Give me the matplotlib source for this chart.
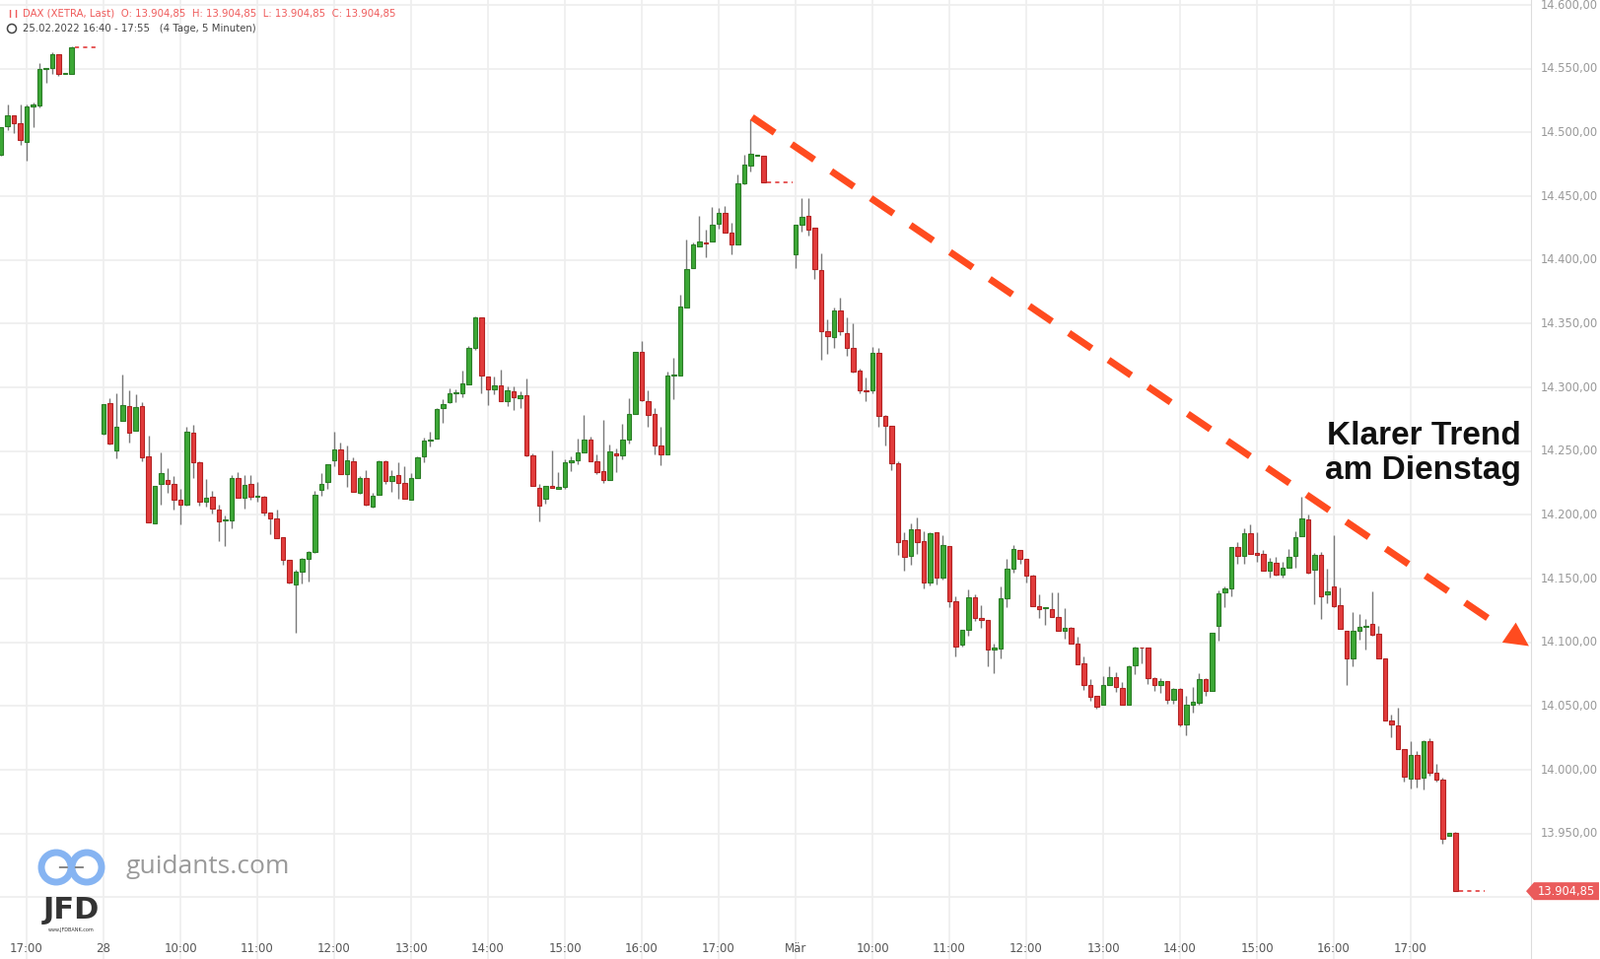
"""
DAX 5-minute candles, 25.02. - 01.03.2022 (guidants style)
"""
import matplotlib
matplotlib.use("Agg")
import matplotlib.pyplot as plt
from matplotlib.patches import Ellipse, Polygon

# ---- data: each session is a run of 5-min candles, slot 0 = 25.02. 17:00
feb25_start = -4
feb25_open = [14482.3, 14504.7, 14513.2, 14507.0, 14492.3, 14520.1, 14520.9, 14549.8, 14550.3, 14561.1, 14545.6, 14545.6]
feb25_high = [14504.0, 14522.0, 14513.2, 14521.7, 14521.7, 14523.2, 14554.2, 14550.3, 14562.7, 14561.1, 14545.6, 14567.3]
feb25_low = [14482.0, 14501.6, 14499.3, 14490.5, 14477.6, 14503.9, 14519.4, 14538.7, 14546.0, 14544.1, 14545.6, 14545.6]
feb25_close = [14503.9, 14513.2, 14507.0, 14493.8, 14520.1, 14521.7, 14549.5, 14549.8, 14561.1, 14545.6, 14545.6, 14566.5]

feb28_start = 12
feb28_open = [14263.5, 14287.4, 14250.3, 14273.5, 14285.1, 14265.8, 14285.1, 14245.7, 14193.1, 14224.0,
              14227.1, 14224.0, 14211.7, 14207.8, 14264.2, 14241.0, 14210.1, 14214.0, 14203.9, 14195.4,
              14195.4, 14228.7, 14213.2, 14224.0, 14214.5, 14214.0, 14201.6, 14197.0, 14182.3, 14164.5,
              14145.2, 14155.2, 14165.3, 14171.0, 14219.4, 14226.1, 14242.6, 14251.1, 14231.8, 14241.8,
              14217.1, 14228.7, 14206.3, 14215.5, 14241.8, 14226.3, 14231.0, 14224.8, 14211.7, 14228.7,
              14245.7, 14258.6, 14259.6, 14283.6, 14288.2, 14295.2, 14295.2, 14302.1, 14330.7, 14354.7,
              14308.3, 14298.3, 14301.4, 14289.0, 14296.7, 14291.3, 14293.6, 14246.5, 14221.0, 14212.4,
              14222.5, 14220.2, 14221.7, 14241.0, 14242.6, 14248.8, 14258.8, 14241.8, 14234.1, 14227.6,
              14248.0, 14246.5, 14258.8, 14278.9, 14327.6, 14289.0, 14278.9, 14254.2, 14247.2, 14309.1,
              14309.1, 14362.4, 14393.4, 14410.4, 14413.5, 14414.2, 14428.2, 14436.6, 14421.2, 14411.9,
              14459.8, 14473.8, 14481.5, 14481.5]
feb28_high = [14287.0, 14291.5, 14295.4, 14310.1, 14297.7, 14294.6, 14288.5, 14262.2, 14222.5, 14249.0,
              14236.7, 14230.5, 14220.4, 14269.1, 14270.7, 14242.1, 14228.1, 14218.9, 14207.8, 14199.5,
              14231.2, 14233.5, 14231.2, 14231.2, 14225.8, 14214.7, 14201.6, 14204.2, 14182.3, 14164.5,
              14156.8, 14166.1, 14171.5, 14219.0, 14232.8, 14239.5, 14265.3, 14256.8, 14254.4, 14245.2,
              14230.2, 14234.9, 14217.1, 14242.6, 14242.6, 14234.9, 14241.0, 14238.0, 14232.5, 14245.7,
              14260.6, 14265.3, 14283.6, 14290.8, 14299.0, 14298.3, 14312.9, 14332.3, 14355.5, 14354.7,
              14308.3, 14308.3, 14313.7, 14300.6, 14300.6, 14296.7, 14306.8, 14248.0, 14224.0, 14222.5,
              14250.6, 14233.3, 14243.4, 14245.7, 14259.9, 14278.4, 14261.1, 14247.2, 14274.5, 14254.9,
              14251.8, 14271.4, 14291.5, 14327.6, 14336.1, 14297.5, 14283.6, 14268.9, 14312.2, 14323.0,
              14372.5, 14415.8, 14413.5, 14434.3, 14423.5, 14441.3, 14440.5, 14442.1, 14428.9, 14466.8,
              14482.3, 14510.1, 14481.5, 14481.5]
feb28_low = [14263.0, 14255.5, 14244.4, 14273.5, 14257.0, 14265.8, 14242.3, 14193.9, 14193.0, 14208.3,
             14217.6, 14204.4, 14192.8, 14207.0, 14229.2, 14207.0, 14206.2, 14201.3, 14179.7, 14175.8,
             14189.7, 14213.2, 14205.2, 14211.7, 14210.6, 14199.3, 14184.6, 14181.5, 14160.6, 14145.9,
             14107.3, 14145.9, 14147.5, 14170.0, 14215.3, 14220.7, 14238.0, 14231.8, 14222.2, 14217.8,
             14216.3, 14207.0, 14205.5, 14215.5, 14224.0, 14218.4, 14212.4, 14212.4, 14211.7, 14228.7,
             14241.6, 14253.4, 14259.6, 14272.0, 14287.5, 14288.2, 14292.1, 14302.1, 14329.2, 14295.2,
             14285.9, 14294.4, 14289.0, 14285.1, 14282.0, 14283.6, 14245.7, 14222.5, 14194.6, 14208.6,
             14221.0, 14220.2, 14220.2, 14234.0, 14239.5, 14248.8, 14241.8, 14231.8, 14224.8, 14227.1,
             14233.3, 14243.4, 14255.7, 14278.9, 14289.0, 14268.9, 14247.2, 14238.7, 14247.2, 14290.5,
             14309.1, 14362.4, 14393.4, 14410.4, 14401.9, 14414.2, 14424.3, 14421.2, 14404.2, 14411.9,
             14459.0, 14469.1, 14481.5, 14460.6]
feb28_close = [14286.7, 14256.2, 14268.9, 14285.9, 14264.7, 14284.3, 14244.9, 14193.9, 14222.5, 14232.5,
               14224.0, 14211.7, 14207.8, 14265.0, 14241.0, 14210.1, 14213.2, 14204.7, 14194.6, 14195.4,
               14228.7, 14213.2, 14223.2, 14214.0, 14214.5, 14201.6, 14197.0, 14181.5, 14164.5, 14146.7,
               14155.2, 14165.3, 14170.7, 14216.0, 14224.0, 14239.5, 14251.1, 14231.8, 14242.6, 14217.8,
               14228.7, 14207.8, 14214.8, 14241.8, 14226.3, 14230.2, 14224.8, 14212.4, 14228.7, 14244.9,
               14258.0, 14258.6, 14282.8, 14286.7, 14295.2, 14295.2, 14302.9, 14330.7, 14354.7, 14309.1,
               14298.3, 14301.4, 14289.0, 14297.5, 14292.1, 14293.6, 14246.5, 14222.5, 14207.0, 14222.5,
               14221.0, 14221.7, 14241.0, 14242.6, 14248.8, 14258.8, 14241.8, 14233.3, 14227.1, 14249.5,
               14246.5, 14258.8, 14278.9, 14327.6, 14289.7, 14278.1, 14254.2, 14247.2, 14309.1, 14309.1,
               14363.2, 14392.6, 14411.9, 14414.2, 14413.2, 14427.4, 14436.6, 14421.2, 14411.9, 14459.8,
               14474.5, 14483.0, 14481.5, 14460.6]

mar01_start = 120
mar01_open = [14404.2, 14427.4, 14434.3, 14425.0, 14391.8, 14343.9, 14339.2, 14360.1, 14342.3, 14330.7,
              14313.5, 14297.5, 14297.5, 14326.8, 14277.3, 14269.6, 14240.2, 14179.9, 14167.5, 14188.4,
              14179.1, 14146.7, 14186.1, 14150.5, 14175.3, 14132.0, 14098.5, 14109.6, 14135.1, 14118.8,
              14117.3, 14094.1, 14094.9, 14134.3, 14157.5, 14172.2, 14165.2, 14152.1, 14128.1, 14126.6,
              14125.8, 14119.6, 14108.8, 14111.1, 14098.7, 14083.3, 14066.3, 14057.8, 14050.8, 14066.3,
              14072.4, 14063.9, 14050.8, 14081.7, 14095.9, 14095.7, 14071.7, 14066.3, 14069.4, 14055.2,
              14063.2, 14035.4, 14050.8, 14052.4, 14070.9, 14061.6, 14112.7, 14139.0, 14142.0, 14174.5,
              14167.6, 14185.4, 14169.9, 14169.1, 14156.0, 14162.2, 14152.9, 14158.3, 14167.6, 14183.0,
              14196.2, 14156.8, 14168.3, 14137.4, 14143.6, 14128.9, 14108.8, 14087.1, 14108.8, 14111.9,
              14114.2, 14106.5, 14087.1, 14038.4, 14034.6, 14016.1, 13992.9, 14011.4, 13993.6, 14022.2,
              13997.5, 13992.1, 13947.9, 13950.3]
mar01_high = [14427.4, 14448.3, 14448.3, 14425.0, 14405.0, 14353.1, 14362.4, 14370.2, 14354.7, 14350.1,
              14315.0, 14307.5, 14331.5, 14330.7, 14278.1, 14269.6, 14241.8, 14186.1, 14193.1, 14197.7,
              14186.9, 14186.1, 14186.1, 14183.8, 14175.3, 14135.8, 14109.6, 14141.3, 14137.4, 14128.9,
              14117.3, 14098.7, 14143.6, 14165.2, 14176.0, 14172.2, 14165.2, 14152.8, 14137.4, 14127.3,
              14138.9, 14138.9, 14126.6, 14111.9, 14104.1, 14088.7, 14070.9, 14057.8, 14073.2, 14080.9,
              14076.3, 14068.6, 14082.0, 14096.7, 14095.9, 14095.7, 14072.4, 14071.7, 14069.4, 14064.0,
              14064.0, 14057.8, 14064.7, 14075.5, 14071.7, 14107.2, 14140.5, 14143.6, 14174.5, 14178.4,
              14189.2, 14192.3, 14186.1, 14172.2, 14166.0, 14166.8, 14162.9, 14173.0, 14186.9, 14214.0,
              14200.0, 14169.9, 14170.7, 14157.5, 14183.8, 14142.8, 14108.8, 14123.5, 14121.9, 14118.1,
              14139.7, 14112.7, 14087.1, 14043.1, 14048.5, 14016.1, 14022.2, 14014.5, 14023.0, 14024.5,
              14004.4, 13993.6, 13950.3, 13951.0]
mar01_low = [14393.9, 14422.0, 14418.9, 14385.4, 14321.4, 14326.1, 14330.7, 14340.8, 14324.5, 14311.9,
             14295.2, 14289.0, 14295.2, 14268.8, 14254.1, 14234.8, 14168.3, 14155.9, 14160.6, 14169.1,
             14142.0, 14144.4, 14145.1, 14149.0, 14127.3, 14088.7, 14097.0, 14104.9, 14116.5, 14111.1,
             14081.0, 14075.5, 14087.1, 14127.4, 14154.4, 14161.4, 14146.7, 14128.1, 14118.8, 14113.4,
             14119.6, 14108.8, 14102.6, 14098.7, 14082.5, 14062.4, 14053.9, 14047.7, 14050.8, 14067.0,
             14060.8, 14050.8, 14050.8, 14074.8, 14083.3, 14067.0, 14061.6, 14060.1, 14051.6, 14051.6,
             14033.8, 14026.8, 14044.6, 14050.8, 14057.8, 14061.6, 14101.1, 14127.4, 14135.9, 14161.4,
             14161.4, 14169.1, 14162.9, 14156.0, 14150.6, 14152.1, 14150.6, 14158.3, 14158.3, 14183.0,
             14153.6, 14129.7, 14118.1, 14130.5, 14127.4, 14110.4, 14066.3, 14081.0, 14101.8, 14094.1,
             14104.9, 14087.1, 14038.4, 14025.3, 14016.1, 13990.5, 13985.1, 13985.9, 13984.3, 13995.2,
             13990.5, 13941.8, 13947.9, 13904.85]
mar01_close = [14427.4, 14433.6, 14423.5, 14392.6, 14343.9, 14340.0, 14360.1, 14343.9, 14330.7, 14312.7,
               14297.5, 14297.2, 14326.8, 14277.3, 14269.6, 14240.2, 14178.4, 14166.8, 14188.4, 14178.4,
               14146.7, 14185.3, 14150.5, 14176.0, 14132.0, 14096.4, 14109.6, 14135.1, 14118.8, 14117.3,
               14094.1, 14095.6, 14134.3, 14157.5, 14173.0, 14165.2, 14152.1, 14128.1, 14125.8, 14126.6,
               14119.6, 14108.8, 14111.1, 14098.7, 14082.5, 14066.3, 14057.0, 14049.2, 14066.3, 14072.4,
               14064.7, 14050.8, 14081.2, 14095.9, 14095.6, 14071.7, 14066.3, 14069.4, 14054.7, 14063.2,
               14035.4, 14050.8, 14053.1, 14070.9, 14061.6, 14107.2, 14138.2, 14142.0, 14174.5, 14167.6,
               14185.4, 14169.1, 14168.3, 14156.0, 14162.9, 14152.9, 14158.3, 14166.8, 14182.3, 14197.0,
               14154.4, 14168.3, 14135.9, 14139.7, 14128.1, 14110.4, 14087.1, 14108.8, 14111.9, 14111.9,
               14105.7, 14087.1, 14038.4, 14035.4, 14016.1, 13994.4, 14011.4, 13992.9, 14022.2, 13997.5,
               13992.1, 13945.7, 13950.3, 13904.85]

# dotted "last price" stubs after each session close (slot_from, slot_to, price)
close_stubs = [(8, 11.3, 14566.5), (116, 119.5, 14460.6), (224, 227.5, 13904.85)]

tick_slots = [0, 12, 24, 36, 48, 60, 72, 84, 96, 108, 120, 132, 144, 156, 168, 180, 192, 204, 216]
tick_labels = ["17:00", "28", "10:00", "11:00", "12:00", "13:00", "14:00", "15:00", "16:00", "17:00",
               "Mär", "10:00", "11:00", "12:00", "13:00", "14:00", "15:00", "16:00", "17:00"]
price_ticks = [13900, 13950, 14000, 14050, 14100, 14150, 14200, 14250, 14300, 14350, 14400, 14450, 14500, 14550, 14600]
last_price = 13904.85

# trend line (slot, price)
trend_start = (113.2, 14511.9)
trend_end = (234.8, 14095.9)

W, H = 1623, 973
UP, UP_EDGE = "#3ca836", "#2b7d26"
DN, DN_EDGE = "#e23c3c", "#b32222"
GRID = "#eeeeee"


def de_num(v):
    s = "{:,.2f}".format(v)
    return s.replace(",", "X").replace(".", ",").replace("X", ".")


def draw_session(ax, start, o, h, l, c):
    for k in range(len(o)):
        x = start + k
        up = c[k] >= o[k]
        ax.vlines(x, l[k], h[k], color="#7a7a7a", lw=1.0, zorder=2)
        lo, hi = min(o[k], c[k]), max(o[k], c[k])
        height = max(hi - lo, 0.7)
        ax.bar(x, height, bottom=lo, width=0.66,
               color=UP if up else DN, edgecolor=UP_EDGE if up else DN_EDGE,
               linewidth=0.8, zorder=3)


def ring(cx, cy, r, **kw):
    # circle given in figure pixels
    return Ellipse((cx / W, 1 - cy / H), 2 * r / W, 2 * r / H, transform=fig.transFigure, **kw)


plt.rcParams["lines.scale_dashes"] = False
fig = plt.figure(figsize=(W / 100, H / 100), dpi=100)
ax_right = 1553 / W
ax = fig.add_axes([0, 0, ax_right, 1])

ymax = 14600 + 5 / 1.2935
ymin = 14600 - 968 / 1.2935
xmin = -27 / 6.5
xmax = (1553 - 27) / 6.5
ax.set_xlim(xmin, xmax)
ax.set_ylim(ymin, ymax)

for p in price_ticks:
    ax.axhline(p, color=GRID, lw=1.2, zorder=0)
for s in tick_slots:
    ax.axvline(s, color=GRID, lw=1.2, zorder=0)
for sp in ["top", "left", "bottom"]:
    ax.spines[sp].set_visible(False)
ax.spines["right"].set_color("#dddddd")
ax.set_xticks([])
ax.set_yticks([])

draw_session(ax, feb25_start, feb25_open, feb25_high, feb25_low, feb25_close)
draw_session(ax, feb28_start, feb28_open, feb28_high, feb28_low, feb28_close)
draw_session(ax, mar01_start, mar01_open, mar01_high, mar01_low, mar01_close)

for x0, x1, p in close_stubs:
    ax.plot([x0 - 0.4, x1], [p, p], color=DN, lw=1.2, ls=(0, (3, 3)), zorder=3)

# trend arrow
tx0, ty0 = trend_start
tx1, ty1 = trend_end
f = 0.95
ax.plot([tx0, tx0 + (tx1 - tx0) * f], [ty0, ty0 + (ty1 - ty0) * f],
        color="#ff4b1f", lw=5, dashes=(20, 15), solid_capstyle="butt", zorder=5)
ax.annotate("", xy=(tx1, ty1), xytext=(tx0 + (tx1 - tx0) * 0.955, ty0 + (ty1 - ty0) * 0.955),
            arrowprops=dict(arrowstyle="-|>", color="#ff4b1f", mutation_scale=44, lw=0),
            annotation_clip=False, zorder=6)

ax.text(1543 / 1553, 1 - 460 / H, "Klarer Trend\nam Dienstag", transform=ax.transAxes,
        ha="right", va="center", fontsize=24, fontweight="bold", color="#111111",
        linespacing=1.15, family="Liberation Sans", zorder=7)

# x labels
for s, lab in zip(tick_slots, tick_labels):
    ax.text(s, ymin + (ymax - ymin) * (1 - 962 / H), lab, ha="center", va="center",
            fontsize=8.5, color="#555555")

# y labels
for p in price_ticks:
    yfr = (p - ymin) / (ymax - ymin)
    if p == 13900:
        continue
    fig.text(1563 / W, yfr, de_num(p), ha="left", va="center", fontsize=8.3, color="#999999")

# last price tag
yfr = (last_price - ymin) / (ymax - ymin)
hh = 9 / H
tag = Polygon([(1548 / W, yfr), (1556 / W, yfr + hh), (1622 / W, yfr + hh),
               (1622 / W, yfr - hh), (1556 / W, yfr - hh)],
              closed=True, transform=fig.transFigure, facecolor="#ea5b5b", edgecolor="none")
fig.patches.append(tag)
fig.text(1589 / W, yfr, de_num(last_price), ha="center", va="center", fontsize=8.3, color="white")

# header
fig.text(23 / W, 1 - 13 / H,
         "DAX (XETRA, Last)  O: {0}  H: {0}  L: {0}  C: {0}".format(de_num(last_price)),
         ha="left", va="center", fontsize=7.3, color="#ef5a5a")
fig.text(6 / W, 1 - 13 / H, "\u2759\u2759", ha="left", va="center", fontsize=6, color="#ef5a5a")
fig.text(23 / W, 1 - 29 / H, "25.02.2022 16:40 - 17:55   (4 Tage, 5 Minuten)",
         ha="left", va="center", fontsize=7.3, color="#444444")
fig.patches.append(ring(12, 29, 4.5, fill=False, edgecolor="#444444", lw=1.1))

# watermark logo
for cx in (57, 88):
    fig.patches.append(ring(cx, 880, 15, fill=False, edgecolor="#86b4f2", lw=5))
fig.text(72 / W, 1 - 880 / H, "\u2012 \u2012", ha="center", va="center", fontsize=11,
         color="#888888", fontweight="bold")
fig.text(127 / W, 1 - 880 / H, "guidants.com", ha="left", va="center", fontsize=19,
         color="#9a9a9a", family="Open Sans")
fig.text(72 / W, 1 - 923 / H, "JFD", ha="center", va="center", fontsize=22,
         color="#333333", fontweight="bold")
fig.text(72 / W, 1 - 943 / H, "www.JFDBANK.com", ha="center", va="center", fontsize=3.5,
         color="#333333")

fig.savefig("out.png", dpi=100)
